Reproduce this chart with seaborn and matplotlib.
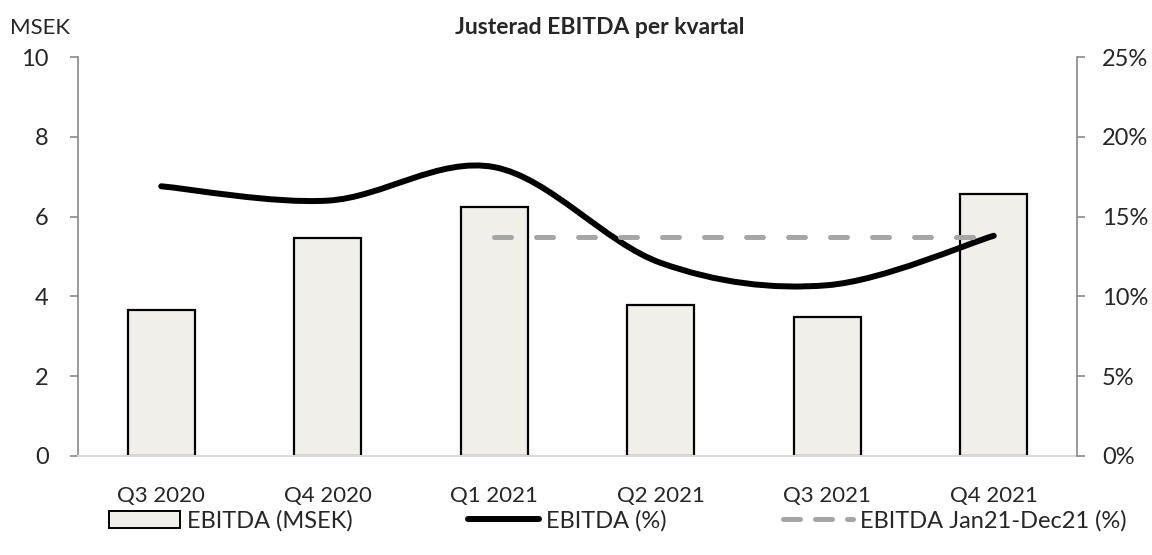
import matplotlib
matplotlib.use('Agg')
import matplotlib.pyplot as plt
import seaborn as sns
import numpy as np
import pandas as pd
from matplotlib.path import Path
from matplotlib.patches import PathPatch, Patch
from matplotlib.lines import Line2D
from matplotlib.ticker import FuncFormatter

sns.set_style("white")
plt.rcParams['font.family'] = ['Lato', 'DejaVu Sans']

quarters = ["Q3 2020", "Q4 2020", "Q1 2021", "Q2 2021", "Q3 2021", "Q4 2021"]
ebitda_msek = [3.66, 5.46, 6.25, 3.78, 3.48, 6.56]
ebitda_pct = [16.9, 16.0, 18.1, 12.1, 10.7, 13.8]
avg_quarters = ["Q1 2021", "Q2 2021", "Q3 2021", "Q4 2021"]
avg_pct = [13.7, 13.7, 13.7, 13.7]

BAR_FILL = "#F0EFEA"
AXIS_GREY = "#898989"
DASH_GREY = "#A6A6A6"


def smooth_path(xs, ys, t=1.0 / 6):
    '''excel style smoothed line: cubic bezier through the points'''
    xs = np.asarray(xs, float)
    ys = np.asarray(ys, float)
    n = len(xs)
    verts = [(xs[0], ys[0])]
    codes = [Path.MOVETO]
    for i in range(n - 1):
        i0 = max(i - 1, 0)
        i3 = min(i + 2, n - 1)
        c1 = (xs[i] + (xs[i + 1] - xs[i0]) * t, ys[i] + (ys[i + 1] - ys[i0]) * t)
        c2 = (xs[i + 1] - (xs[i3] - xs[i]) * t, ys[i + 1] - (ys[i3] - ys[i]) * t)
        verts += [c1, c2, (xs[i + 1], ys[i + 1])]
        codes += [Path.CURVE4] * 3
    return Path(verts, codes)


df = pd.DataFrame({"quarter": quarters, "msek": ebitda_msek, "pct": ebitda_pct})

fig = plt.figure(figsize=(11.52, 5.55), dpi=100)
ax = fig.add_axes([78 / 1152, 1 - 456 / 555, (1077 - 78) / 1152, (456 - 57) / 555])

sns.barplot(data=df, x="quarter", y="msek", ax=ax, color=BAR_FILL,
            edgecolor="black", linewidth=1.6, width=0.4, saturation=1)
ax.set_xlim(-0.5, len(quarters) - 0.5)
ax.set_ylim(0, 10)
ax.set_yticks([0, 2, 4, 6, 8, 10])
ax.set_xlabel("")
ax.set_ylabel("")

ax2 = ax.twinx()
ax2.set_ylim(0, 25)
ax2.set_yticks([0, 5, 10, 15, 20, 25])
ax2.yaxis.set_major_formatter(FuncFormatter(lambda v, p: "{:.0f}%".format(v)))

xpos = np.arange(len(quarters))
patch = PathPatch(smooth_path(xpos, ebitda_pct), facecolor="none", edgecolor="black",
                  linewidth=4.3, capstyle="round", joinstyle="round")
ax2.add_patch(patch)

avg_x = [quarters.index(q) for q in avg_quarters]
ax2.plot(avg_x, avg_pct, color=DASH_GREY, linewidth=3.6, dashes=(3.4, 5.0),
         dash_capstyle="round")

for a in (ax, ax2):
    for s in ("top", "left", "right", "bottom"):
        a.spines[s].set_visible(False)

ax.spines["left"].set_visible(True)
ax.spines["left"].set_color(AXIS_GREY)
ax.spines["left"].set_linewidth(1.2)
ax.spines["bottom"].set_visible(True)
ax.spines["bottom"].set_color("#D9D9D9")
ax.spines["bottom"].set_linewidth(1.5)
ax2.spines["right"].set_visible(True)
ax2.spines["right"].set_color(AXIS_GREY)
ax2.spines["right"].set_linewidth(1.2)

ax.tick_params(axis="y", left=True, length=6, width=1.2, color=AXIS_GREY,
               labelsize=17, pad=15)
ax.tick_params(axis="x", bottom=False, labelsize=16, pad=18)
ax2.tick_params(axis="y", right=True, length=6, width=1.2, color=AXIS_GREY,
                labelsize=17, pad=12)

fig.text(10 / 1152, 1 - 28 / 555, "MSEK", fontsize=16, va="center", ha="left")
fig.text(600 / 1152, 1 - 27 / 555, "Justerad EBITDA per kvartal", fontsize=16.5,
         fontweight="bold", va="center", ha="center")

handles = [
    Patch(facecolor=BAR_FILL, edgecolor="black", linewidth=1.4),
    Line2D([], [], color="black", linewidth=4.3),
    Line2D([], [], color=DASH_GREY, linewidth=3.6, dashes=(3.4, 3.0), dash_capstyle="round"),
]
labels = ["EBITDA (MSEK)", "EBITDA (%)", "EBITDA Jan21-Dec21 (%)"]
fig.legend(handles, labels, loc="center", bbox_to_anchor=(618 / 1152, 1 - 521 / 555),
           ncol=3, frameon=False, fontsize=17, handlelength=3.0, handletextpad=0.3,
           columnspacing=4.9, borderpad=0)

fig.savefig("out.png", dpi=100)
